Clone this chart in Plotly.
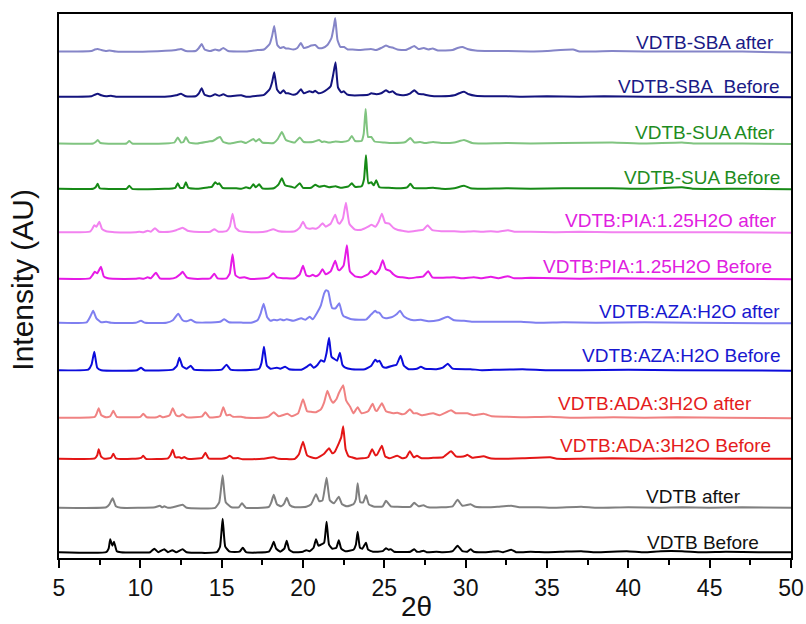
import plotly.graph_objects as go

# ---- data: 2-theta (deg) / relative intensity (AU) vertices ----
vdtb_before = [(5,0.5),(7.9,0.5),(8.05,4),(8.15,13.5),(8.28,7),(8.38,11),(8.55,1.5),(8.8,0.5),
    (10.6,0.5),(10.86,4),(11.1,0.5),(11.47,3.5),(11.7,0.5),(11.97,2.5),(12.2,0.5),(12.6,3.5),(12.85,0.5),
    (14.7,0.5),(14.9,6),(15.06,34),(15.22,6),(15.5,1),(16.1,1),(16.3,5),(16.5,0.5),
    (17.9,1),(18.08,6),(18.2,11),(18.35,4),(18.6,1),(18.85,4),(19.0,12),(19.15,3),(19.4,0.5),
    (20.0,1),(20.2,2.5),(20.4,1.5),(20.65,5),(20.8,13.5),(20.95,7),(21.1,8),(21.3,10),(21.45,31),(21.6,8),
    (21.8,4),(22.05,5),(22.2,12.5),(22.35,4),(22.6,1.5),(23.1,3),(23.25,8),(23.36,21),(23.5,5),(23.65,4),
    (23.87,10),(24.0,3),(24.3,1),(24.9,1.5),(25.1,4.5),(25.25,3),(25.4,3.5),(25.6,1),(26.6,1),(26.84,3.5),
    (27.0,1),(27.2,1),(27.4,2),(27.6,0.5),(28.2,1),(28.6,0.5),(29.2,1.5),(29.5,7),(29.8,1.5),(30.1,1),
    (30.3,3.5),(30.5,1),(31.2,0.5),(31.6,1),(32.0,1.5),(32.3,0.5),(32.8,3),(33.1,0.5),(34,1),(35,0.5),
    (36,1),(37.1,1.5),(38,0.5),(39.9,1.5),(41,0.5),(42,1.5),(43.3,1.5),(44.5,0.5),(46,1),(48,0.5),(50,0.5)]

vdtb_after = [(5,0.5),(7.9,1),(8.1,4),(8.3,10),(8.5,2),(8.8,0.5),(10.9,1),(11.2,2.5),(11.35,1),(11.47,2),
    (11.7,0.5),(12.0,1),(12.6,3.5),(12.85,0.5),(14.6,0.5),(14.85,6),(15.06,33),(15.25,6),(15.6,1),(16.05,1),
    (16.25,5),(16.5,0.5),(17.9,1.5),(18.05,6),(18.2,13.5),(18.4,4),(18.65,2),(18.85,5),(19.0,10.5),(19.2,3),
    (19.5,1),(20.2,1.5),(20.5,4),(20.8,14),(21.0,7),(21.2,8),(21.45,30.5),(21.65,8),(21.9,5),(22.2,11.5),
    (22.4,4),(22.7,2),(23.1,4),(23.25,9),(23.36,25),(23.52,6),(23.7,6),(23.87,13),(24.05,4),(24.4,1.5),
    (24.9,2),(25.1,7.5),(25.4,2),(25.8,1.5),(26.6,1.5),(26.84,5.5),(27.1,2),(27.4,3),(27.7,1),(28.5,1),
    (29.2,2),(29.5,8.5),(29.8,2.5),(30.3,4),(30.6,1.5),(31.5,1),(32.0,1.5),(32.8,2.5),(33.3,1),(34.5,1),
    (35.5,0.5),(37.1,1.5),(38,0.5),(40,1),(42,0.5),(43.3,1),(45,0.5),(47,1),(50,0.5)]

ada_before = [(5,0.5),(7.2,1),(7.35,4),(7.44,10),(7.58,3),(7.8,0.5),(8.2,1.5),(8.34,5.5),(8.5,1),(9.5,0.5),
    (10.05,1.5),(10.18,3.5),(10.35,0.5),(11.7,1),(11.85,4),(11.99,9.5),(12.15,2),(12.4,2),(12.55,1),(12.7,2.2),
    (12.9,0.5),(13.8,1.5),(14.0,6.5),(14.2,1),(15.0,0.5),(15.3,1.5),(15.5,3.5),(15.7,1),(16.0,1.2),(16.3,0),
    (17.5,0.5),(18.2,2),(18.5,0.5),(19.5,0.5),(19.75,5),(20.0,17.5),(20.25,4),(20.5,2),(20.8,1),(21.3,5.5),
    (21.6,11),(21.8,6),(21.95,7.5),(22.2,16),(22.35,22),(22.47,33),(22.62,10),(22.8,3),(23.0,2),(23.3,0.5),
    (24.0,2),(24.25,10),(24.45,4),(24.55,4.5),(24.85,13.5),(25.05,3),(25.3,1),(25.8,3.5),(26.1,1),(26.35,2),
    (26.57,8),(26.8,2),(27.0,3.5),(27.3,1),(28.0,1.5),(28.6,2),(29.1,8),(29.4,3),(29.7,2.5),(30.0,3.5),
    (30.1,4.5),(30.4,1.5),(31.1,3),(31.5,1),(32,0.5),(33.5,1),(35.2,2),(35.6,0.5),(37,0.5),(39,1),(41,0.5),
    (43,1),(46,0.5),(50,0.5)]

ada_after = [(5,0.5),(7.2,1.5),(7.3,4),(7.44,10),(7.6,3),(7.9,1),(8.15,2),(8.34,7.5),(8.55,1.5),(9.5,1),
    (10.0,1.5),(10.18,4.5),(10.4,1),(11.0,1),(11.2,2.5),(11.4,1),(11.8,3),(11.99,10),(12.2,3),(12.4,2),
    (12.6,4),(12.85,1),(13.8,2),(14.0,6),(14.25,1),(14.9,2),(15.1,11),(15.3,3),(15.5,3.5),(15.7,1.5),
    (16.2,1.5),(16.5,0.5),(17.5,0.5),(17.9,2),(18.2,6),(18.5,2),(19.05,4.5),(19.3,2),(19.7,5),(20.0,19),
    (20.25,7),(20.5,6.5),(20.8,6),(21.1,9),(21.3,16),(21.5,27.5),(21.7,19),(21.85,15.5),(22.05,19),(22.2,25),
    (22.47,33),(22.65,18),(22.9,11.5),(23.1,5),(23.36,11),(23.6,5),(24.0,7),(24.28,14.5),(24.45,8),(24.55,7.5),
    (24.85,15),(25.1,7),(25.3,6),(25.55,5),(25.8,5.5),(26.1,4),(26.3,5),(26.57,9),(26.8,5),(27.0,5),(27.3,3),
    (28.0,5),(28.4,3),(29.1,8),(29.4,5),(29.6,5),(30.1,5),(30.5,3),(31.1,4.5),(31.6,2),(32.5,1.5),(33.5,1),
    (35.2,1.5),(36.5,0.5),(39.1,1),(41,0.5),(43,1),(46,0.5),(50,0)]

aza_before = [(5,0.5),(6.8,1),(7.0,6),(7.17,19),(7.35,3),(7.6,0.5),(9.8,0.5),(10.04,3),(10.25,0.5),(12.0,1),
    (12.25,5),(12.4,13),(12.6,4),(12.85,2),(13.1,5),(13.3,1),(14.0,0.5),(15.0,1),(15.3,6),(15.55,1),(16.2,0.5),
    (17.3,2),(17.45,8),(17.6,24),(17.78,5),(18.0,2),(18.4,3),(18.6,2),(18.9,4),(19.15,1.5),(19.9,1),(20.25,4),
    (20.45,6.5),(20.65,3),(20.9,6),(21.1,10.5),(21.3,9),(21.45,18),(21.6,33),(21.75,14),(21.9,12),(22.1,10),
    (22.27,18),(22.42,6),(22.6,3),(23.0,1.5),(23.8,1.5),(24.2,5),(24.44,11),(24.58,9),(24.7,10),(24.9,4),
    (25.1,3),(25.5,5),(25.75,6),(26.0,15),(26.2,5),(26.5,1.5),(27.0,2),(27.25,4),(27.5,2),(28.2,1.5),(28.6,3),
    (28.9,7),(29.2,2),(30.3,1.5),(31,0.5),(32,1),(33.5,1.5),(35,0.5),(37,0.5),(40,1),(43,0.5),(50,0)]

aza_after = [(5,0.5),(6.7,1),(6.9,6),(7.1,12.5),(7.3,5),(7.6,1),(7.9,1.5),(8.2,0.5),(9.7,0.5),(10.04,2.5),
    (10.3,0.5),(11.6,0.5),(12.0,3),(12.33,9.5),(12.6,3),(12.85,2),(13.1,3.5),(13.4,1),(14.0,0.7),(14.9,1.5),
    (15.16,4),(15.45,1),(16.2,0.7),(16.8,0.5),(17.2,3),(17.4,10),(17.58,19.5),(17.8,6),(18.0,2.5),(18.2,3.5),
    (18.4,3),(18.6,4),(18.8,3),(19.0,4),(19.4,2.5),(19.9,5),(20.15,3.5),(20.4,6.5),(20.6,4),(20.85,10),
    (21.1,18),(21.3,30),(21.42,33),(21.55,32),(21.7,20),(21.8,15),(22.0,15),(22.23,20),(22.4,10),(22.5,7),
    (22.8,5),(23.0,4),(23.5,3.5),(23.9,4),(24.2,9),(24.44,12.5),(24.55,11),(24.7,10.5),(24.9,6),(25.1,5),
    (25.5,6.5),(25.75,9),(25.96,12.5),(26.2,7),(26.4,5),(26.8,3),(27.25,3.5),(27.7,2),(28.3,3),(28.9,6.5),
    (29.3,3),(29.9,2.5),(30.5,1.5),(31.5,1.5),(33.4,1.5),(34.5,0.5),(36,1),(38,0.5),(41,1),(44,0.5),(50,0)]

pia_before = [(5,0.5),(6.9,1),(7.05,4),(7.2,7.5),(7.35,6),(7.58,12.5),(7.75,3),(8.0,1),(8.3,0.5),(9.7,0.5),
    (9.94,1),(10.2,0.5),(10.45,2),(10.65,1),(10.96,6.5),(11.2,1),(11.8,0.5),(12.2,2),(12.45,5),(12.6,7.5),
    (12.85,2),(13.3,0.5),(14.3,1),(14.55,5.5),(14.75,1),(15.3,1),(15.5,6),(15.67,25),(15.85,4),(16.1,1.5),
    (16.4,2),(16.7,0.5),(17.2,0.5),(17.9,2),(18.17,6),(18.4,2),(19.0,1),(19.5,1),(19.8,5),(20.0,13.5),
    (20.2,4),(20.4,3),(20.6,4.5),(20.8,3),(21.0,5),(21.2,10),(21.4,5),(21.7,8),(21.98,18.5),(22.15,10),
    (22.25,9),(22.5,14),(22.7,34),(22.88,8),(23.2,3),(23.6,2),(24.0,5),(24.2,8.5),(24.45,5),(24.7,10),
    (24.9,19),(25.1,10),(25.35,8.5),(25.55,5),(25.8,2.5),(26.1,2),(26.5,1),(27.0,2),(27.4,3),(27.7,8),
    (27.95,2),(28.5,1.5),(29.3,2),(29.8,1),(30.5,2),(31.0,1),(31.55,2.5),(32.0,1),(32.6,3),(33.0,1),(34,1.5),
    (35.5,1),(37,0.5),(39,1),(42,0.5),(46,0.5),(50,0)]

pia_after = [(5,0.5),(6.9,1),(7.05,4),(7.17,7.5),(7.3,6),(7.48,11),(7.65,3.5),(7.9,1.5),(8.1,1),(8.4,0.5),
    (9.7,0.5),(9.94,1),(10.2,0.5),(10.45,2),(10.65,1),(10.9,4.5),(11.15,1),(11.8,1),(12.2,2.5),(12.6,5),
    (12.9,2),(13.3,1),(14.3,1),(14.55,3.5),(14.8,1),(15.3,1.5),(15.5,6),(15.67,19),(15.85,5),(16.1,1.5),
    (16.4,1),(17.2,0.5),(17.8,1.5),(18.17,3.5),(18.5,1.5),(19.0,1),(19.5,1.5),(19.8,5),(20.0,11),(20.2,5),
    (20.4,4),(20.6,4.5),(20.8,4),(21.0,6),(21.2,9.5),(21.4,6),(21.7,9),(21.98,18),(22.15,10),(22.25,9),
    (22.45,14),(22.64,30),(22.85,9),(23.2,3),(23.6,3),(24.0,6),(24.2,8),(24.45,6),(24.65,11),(24.85,19),
    (25.05,10),(25.3,9),(25.55,5),(25.8,3),(26.1,2),(26.5,1),(27.0,2),(27.4,3),(27.66,7.5),(27.95,2.5),
    (28.5,1.5),(29.3,1.5),(29.8,1),(30.5,1.5),(31.0,1),(31.55,1.5),(32.0,1),(32.6,2.5),(33.0,1),(34,1),
    (35.5,0.5),(37,1),(39,0.5),(42,0.5),(46,0.5),(50,0)]

sua_before = [(5,0.5),(7.1,0.5),(7.25,2),(7.38,5.5),(7.5,1),(7.8,0.5),(9.15,0.5),(9.32,3.5),(9.5,0.5),
    (11.5,0.5),(12.15,1.5),(12.3,6),(12.45,1.5),(12.65,1.5),(12.8,7),(12.95,1.5),(13.5,0.5),(14.2,2),
    (14.4,2.5),(14.6,7),(14.75,5),(14.85,6),(15.05,1.5),(15.5,1),(15.9,1),(16.2,0.5),(16.5,2),(16.75,1),
    (16.95,5),(17.1,2),(17.3,5),(17.5,1),(18.2,1),(18.5,5),(18.7,11),(18.9,4),(19.3,2.5),(19.5,1.5),
    (19.8,6),(20.0,1.5),(20.5,1.5),(20.75,4.5),(21.0,2.5),(21.3,3.5),(21.6,2),(22.0,3),(22.3,1.5),(22.8,3),
    (23.0,6),(23.2,2.5),(23.6,3),(23.75,10),(23.87,34),(24.02,6),(24.2,7),(24.35,4),(24.5,9),(24.7,2),
    (25.2,1.5),(25.8,1),(26.4,2),(26.6,5.5),(26.8,1.5),(27.5,1),(28.0,1.5),(28.5,0.5),(29.3,1),(29.9,3.5),
    (30.3,1),(31,0.5),(32.5,1),(34,0.5),(36,1),(39,1),(41,0.5),(43.3,2),(44,0.5),(47,0.5),(50,0)]

sua_after = [(5,0.5),(7.1,0.5),(7.25,2),(7.38,4),(7.55,1),(7.8,0.5),(9.15,0.5),(9.32,3),(9.5,0.5),(11.5,0.5),
    (12.1,1.5),(12.3,6.5),(12.5,1.5),(12.65,2),(12.8,7),(13.0,1.5),(13.5,0.5),(14.2,2.5),(14.45,3),(14.75,6),
    (14.9,7),(15.1,2),(15.5,0.5),(16.2,2.5),(16.5,1),(16.95,5),(17.1,2.5),(17.3,5),(17.5,1.5),(18.2,1),
    (18.45,5),(18.7,12),(18.95,4),(19.3,2),(19.5,1.5),(19.8,6.5),(20.05,2),(20.6,2),(21.0,4),(21.15,2),
    (21.3,2.5),(21.6,1.5),(22.0,2.5),(22.4,2),(22.8,3.5),(23.0,8),(23.2,3),(23.6,3),(23.73,10),(23.85,35),
    (24.0,7),(24.2,7),(24.4,2.5),(25.0,1.5),(25.5,1),(26.3,2),(26.6,6),(26.85,1.5),(27.2,2),(27.5,1),(28.0,2),
    (28.5,1),(29.3,1.5),(29.9,4),(30.4,1),(31,0.5),(32.5,1),(34,0.5),(36,1),(39,1.5),(41,0.5),(43.3,1.5),
    (44,0.5),(47,0.5),(50,0)]

sba_before = [(5,0.5),(7.0,1),(7.2,2.5),(7.38,3.5),(7.6,2),(7.9,1),(8.2,1.5),(8.5,0.5),(9.5,0.5),(10.5,0.5),
    (11.5,0.5),(12.2,2),(12.5,3.5),(12.8,1),(13.4,1),(13.6,4),(13.77,9),(13.95,2.5),(14.3,1),(14.6,3),
    (14.85,1.5),(15.1,3),(15.4,1),(16.2,2),(16.5,0.5),(17.2,1.5),(17.6,2.5),(17.95,8),(18.1,15),(18.23,25),
    (18.4,8),(18.6,4),(18.8,7),(18.95,4),(19.1,4),(19.4,2.5),(19.65,4),(19.87,8),(20.05,4),(20.4,6),(20.6,5),
    (20.75,6.5),(20.95,4),(21.2,5),(21.5,8),(21.7,11),(21.85,22),(22.0,35),(22.15,10),(22.35,5),(22.5,6),
    (22.7,3),(23.0,2),(23.5,2),(24.0,2.5),(24.2,4),(24.5,3),(24.8,4),(25.1,7),(25.3,5),(25.5,6),(25.75,3),
    (26.2,2),(26.6,4),(26.84,7),(27.1,3.5),(27.4,3),(27.8,1.5),(28.5,1),(29.3,2),(29.6,4),(29.9,5.5),(30.2,3),
    (30.6,1.5),(31.5,1),(32.5,1),(33.5,0.5),(35,1),(37,0.5),(38.5,1),(41,0.5),(44,0.5),(47,0.5),(50,0)]

sba_after = [(5,0.5),(7.0,1),(7.2,2.5),(7.38,3),(7.6,2),(7.9,1),(8.1,1.5),(8.5,0.5),(10.5,0.5),(12.2,2),
    (12.5,3),(12.8,1),(13.4,1),(13.6,4),(13.77,8),(13.95,2.5),(14.3,1),(14.6,2.5),(14.85,1.5),(15.1,4),
    (15.4,1),(16.5,0.5),(17.2,2),(17.6,2.5),(17.95,8),(18.1,16),(18.23,26),(18.42,7),(18.6,4),(18.8,5),
    (18.95,3.5),(19.1,3.5),(19.4,2.5),(19.65,4),(19.87,9),(20.05,4),(20.3,5),(20.5,6.5),(20.75,7),(20.95,4),
    (21.2,4),(21.5,7),(21.75,14),(21.9,26),(21.98,34),(22.12,12),(22.3,5),(22.53,5),(22.75,2.5),(23.05,2.5),
    (23.5,2),(24.18,3),(24.5,2),(24.8,4),(25.1,6.5),(25.3,5),(25.5,4.5),(25.8,2.5),(26.3,2),(26.6,4),
    (26.84,6),(27.1,3),(27.43,4),(27.7,2.5),(27.97,3.5),(28.3,1.5),(29.2,2),(29.5,4),(29.8,5),(30.1,3),
    (30.6,1.5),(31.5,1),(32.5,1),(34,0.5),(35,1),(36.6,2.5),(37,0.5),(39,1),(41,0.5),(44,0.5),(47,0.5),(50,-0.5)]

# stacking order (bottom -> top)
series_names = ["VDTB Before", "VDTB after", "VDTB:ADA:3H2O Before", "VDTB:ADA:3H2O after",
                "VDTB:AZA:H2O Before", "VDTB:AZA:H2O after", "VDTB:PIA:1.25H2O Before",
                "VDTB:PIA:1.25H2O after", "VDTB-SUA Before", "VDTB-SUA After",
                "VDTB-SBA\u00a0 Before", "VDTB-SBA after"]
series_data = [vdtb_before, vdtb_after, ada_before, ada_after, aza_before, aza_after,
               pia_before, pia_after, sua_before, sua_after, sba_before, sba_after]
offsets = [5.3, 49.7, 98.7, 139.7, 187.3, 234.7, 278.7, 325.3, 368.7, 414, 460.7, 506]

# ---- styling ----
line_colors = ["#000000", "#808080", "#e41616", "#f08282", "#0c0cdc", "#7f7ff0",
               "#e61ae6", "#f282f0", "#168a16", "#80c480", "#14147e", "#8585c8"]
label_colors = ["#111111", "#111111", "#e41c1c", "#e41c1c", "#1818d0", "#1818d0",
                "#e020e0", "#e020e0", "#1e8c1e", "#1e8c1e", "#1a1a86", "#1a1a86"]
label_x = [48.16, 47.07, 48.91, 47.75, 49.49, 49.45, 48.98, 49.24, 49.45, 49.12, 49.45, 49.08]
label_y = [15.3, 62, 112.3, 154.7, 202.3, 247, 292, 337.3, 380.3, 425.3, 472, 515.3]

fig = go.Figure()
for name, pts, off, col in zip(series_names, series_data, offsets, line_colors):
    fig.add_trace(go.Scatter(
        x=[p[0] for p in pts], y=[p[1] + off for p in pts],
        mode="lines", name=name, showlegend=False,
        line=dict(color=col, width=2, shape="spline", smoothing=0.4)))

sans = "Liberation Sans, Arial, sans-serif"
annotations = []
for name, lx, ly, lc in zip(series_names, label_x, label_y, label_colors):
    annotations.append(dict(x=lx, y=ly, xref="x", yref="y", text=name, showarrow=False,
                            xanchor="right", yanchor="middle",
                            font=dict(family=sans, size=19, color=lc)))

annotations.append(dict(x=-0.051, y=0.511, xref="paper", yref="paper", text="Intensity (AU)",
                        textangle=-90, showarrow=False, xanchor="center", yanchor="middle",
                        font=dict(family=sans, size=30, color="#111")))
annotations.append(dict(x=0.489, y=-0.090, xref="paper", yref="paper", text="2θ",
                        showarrow=False, xanchor="center", yanchor="middle",
                        font=dict(family=sans, size=28, color="#111")))

fig.update_layout(
    width=806, height=624,
    margin=dict(l=59, r=15, t=14, b=66),
    paper_bgcolor="white", plot_bgcolor="white",
    annotations=annotations,
)
fig.update_xaxes(range=[5, 50], dtick=5, tick0=5, ticks="outside", ticklen=8, tickwidth=1.5,
                 tickcolor="black", showline=True, linecolor="black", linewidth=1.5, mirror=True,
                 showgrid=False, zeroline=False, automargin=False, ticklabelstandoff=1,
                 minor=dict(dtick=2.5, ticks="outside", ticklen=5, tickwidth=1.5, tickcolor="black"),
                 tickfont=dict(family=sans, size=23, color="#111"))
fig.update_yaxes(range=[0, 544], showticklabels=False, ticks="", showline=True, linecolor="black",
                 linewidth=1.5, mirror=True, showgrid=False, zeroline=False, automargin=False)

fig.write_html("out.html", config={"displayModeBar": False},
               post_script="document.body.style.margin='0';document.body.style.overflow='hidden';")
